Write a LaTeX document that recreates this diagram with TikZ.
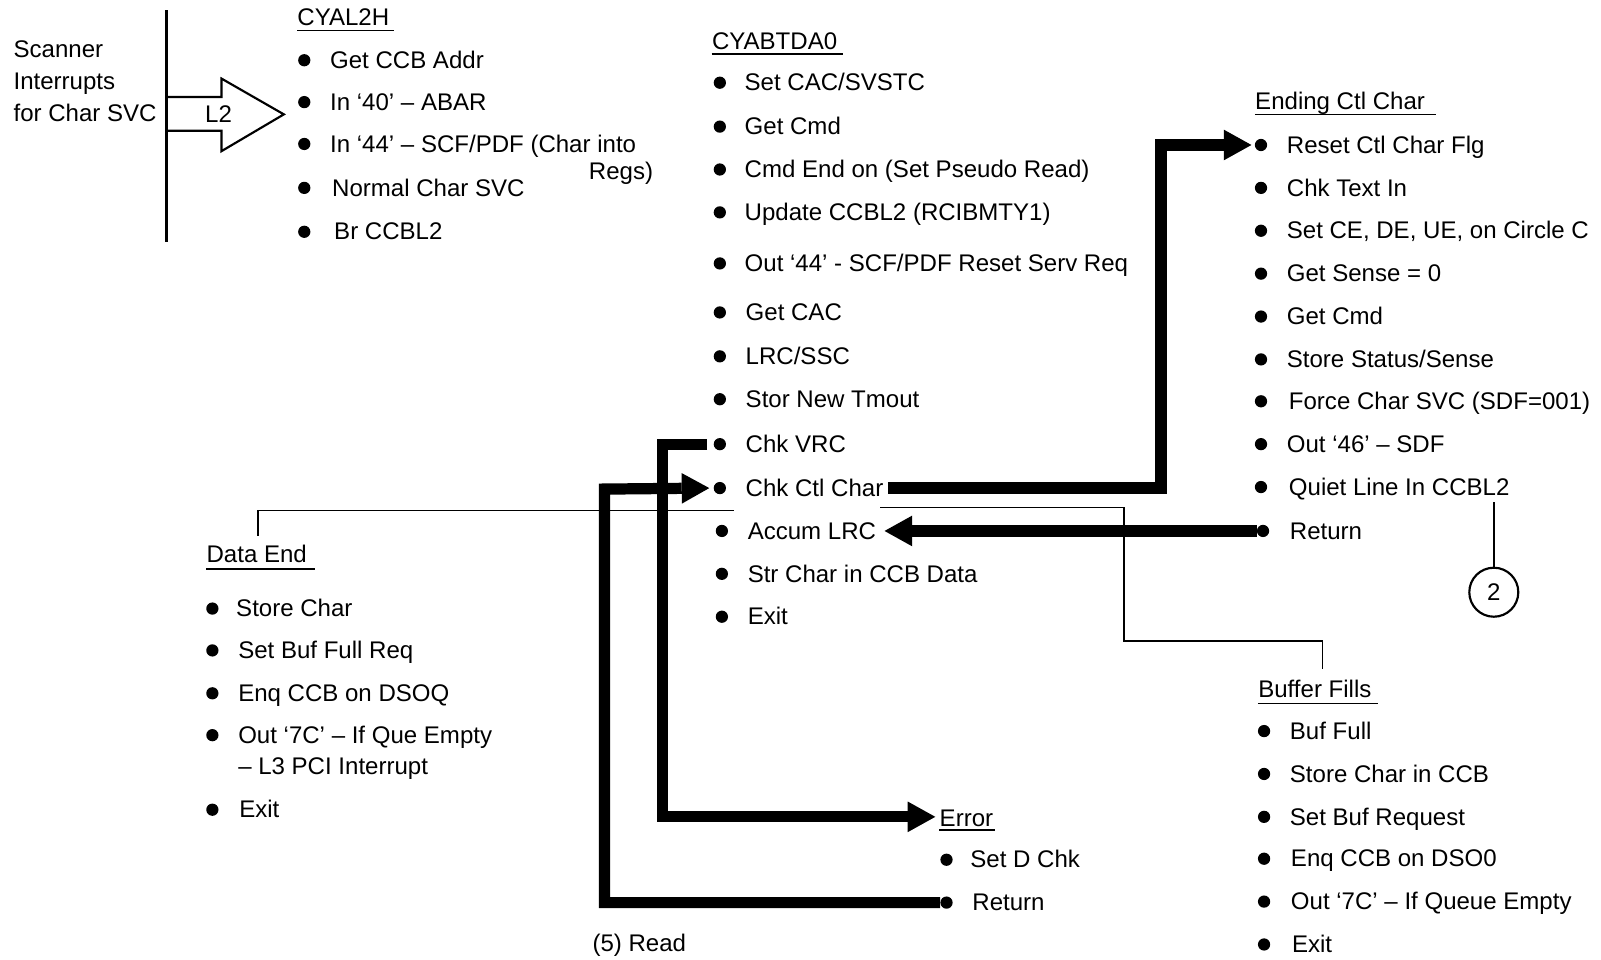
\documentclass[tikz,border=0pt]{standalone}
\usepackage{fontspec}
\setmainfont{Liberation Sans}
\usetikzlibrary{arrows.meta,calc}
\newcommand\bul[5]{%
  \node[dot] (#1d) at (#2,#4) {};
  \node[txt] (#1) at (#3,#4+8) {#5};}
\begin{document}
\begin{tikzpicture}[x=0.02cm,y=-0.02cm,
  txt/.style={anchor=base west, inner sep=0pt, font=\fontsize{13.4}{16}\selectfont},
  ttl/.style={txt},
  dot/.style={circle, fill=black, draw=none, inner sep=0pt, minimum size=0.24cm},
  thin/.style={line width=0.85pt},
  flow/.style={line width=0.22cm, line join=miter},
  flowarrow/.style={flow, -{Triangle[length=0.54cm,width=0.6cm,line width=0pt]}},
  uline/.style={line width=0.9pt}]
\useasboundingbox (0,0) rectangle (1568,940);

% ---------- left: scanner interrupts ----------
\node[txt] (scan1) at (13,56) {Scanner};
\node[txt] (scan2) at (13,88) {Interrupts};
\node[txt] (scan3) at (13,119) {for Char SVC};
\coordinate (vtop) at (163,10);
\coordinate (vbot) at (163,237);
\draw[line width=1.4pt] (vtop) -- (vbot);
\draw[line width=1.2pt, line join=miter] (163,95) -- (217,95) -- (217,77) -- (278,112)
   -- (217,148) -- (217,128) -- (163,128);
\node[txt, anchor=center] (l2) at (214,112) {L2};

% ---------- CYAL2H ----------
\node[ttl] (cyal) at (291,25) {CYAL2H};
\draw[uline] ($(cyal.base west)+(0,5)$) -- ($(cyal.base east)+(4,5)$);
\bul{a1}{298}{323}{59}{Get CCB Addr}
\bul{a2}{298}{323}{100}{In ‘40’ – ABAR}
\bul{a3}{298}{323}{141}{In ‘44’ – SCF/PDF (Char into}
\node[txt, anchor=base east] (a3b) at (640,176) {Regs)};
\bul{a4}{298}{325}{184}{Normal Char SVC}
\bul{a5}{298}{327}{227}{Br CCBL2}

% ---------- CYABTDA0 ----------
\node[ttl] (cyab) at (697,48) {CYABTDA0};
\draw[uline] ($(cyab.base west)+(0,5)$) -- ($(cyab.base east)+(5,5)$);
\bul{b1}{705}{729}{81}{Set CAC/SVSTC}
\bul{b2}{705}{729}{124}{Get Cmd}
\bul{b3}{705}{729}{166}{Cmd End on (Set Pseudo Read)}
\bul{b4}{705}{729}{208}{Update CCBL2 (RCIBMTY1)}
\bul{b5}{705}{729}{258}{Out ‘44’ - SCF/PDF Reset Serv Req}
\bul{b6}{705}{730}{306}{Get CAC}
\bul{b7}{705}{730}{349}{LRC/SSC}
\bul{b8}{705}{730}{391}{Stor New Tmout}
\bul{vrc}{705}{730}{435}{Chk VRC}
\bul{chkctl}{705}{730}{478}{Chk Ctl Char}
\bul{accum}{707}{732}{520}{Accum LRC}
\bul{b12}{707}{732}{562}{Str Char in CCB Data}
\bul{b13}{707}{732}{604}{Exit}

% ---------- Ending Ctl Char ----------
\node[ttl] (ecc) at (1229,107) {Ending Ctl Char};
\draw[uline] ($(ecc.base west)+(0,5)$) -- ($(ecc.base east)+(10,5)$);
\bul{reset}{1235}{1260}{142}{Reset Ctl Char Flg}
\bul{e2}{1235}{1260}{184}{Chk Text In}
\bul{e3}{1235}{1260}{226}{Set CE, DE, UE, on Circle C}
\bul{e4}{1235}{1260}{268}{Get Sense = 0}
\bul{e5}{1235}{1260}{310}{Get Cmd}
\bul{e6}{1235}{1260}{352}{Store Status/Sense}
\bul{e7}{1235}{1262}{393}{Force Char SVC (SDF=001)}
\bul{e8}{1235}{1260}{435}{Out ‘46’ – SDF}
\bul{quiet}{1235}{1262}{477}{Quiet Line In CCBL2}
\bul{eret}{1237}{1263}{520}{Return}

\node[draw, circle, line width=1.2pt, minimum size=0.96cm, inner sep=0pt,
      font=\fontsize{13.4}{16}\selectfont] (c2) at (1463,580) {2};
\coordinate (q2) at (1463,492);
\draw[line width=1.2pt] (q2) -- (c2.north);

% ---------- Data End ----------
\node[ttl] (dataend) at (202,551) {Data End};
\draw[uline] ($(dataend.base west)+(0,6)$) -- ($(dataend.base east)+(8,6)$);
\bul{d1}{208}{231}{596}{Store Char}
\bul{d2}{208}{233}{637}{Set Buf Full Req}
\bul{d3}{208}{233}{679}{Enq CCB on DSOQ}
\bul{d4}{208}{233}{720}{Out ‘7C’ – If Que Empty}
\node[txt] (d4b) at (233,759) {– L3 PCI Interrupt};
\bul{d5}{208}{234}{793}{Exit}
\coordinate (deend) at (719,500);
\draw[thin] ($(dataend.north)+(1,-9)$) |- (deend);

% ---------- Buffer Fills ----------
\node[ttl] (buf) at (1232,683) {Buffer Fills};
\draw[uline] ($(buf.base west)+(0,6)$) -- ($(buf.base east)+(6,6)$);
\bul{f1}{1238}{1263}{716}{Buf Full}
\bul{f2}{1238}{1263}{758}{Store Char in CCB}
\bul{f3}{1238}{1263}{800}{Set Buf Request}
\bul{f4}{1238}{1264}{841}{Enq CCB on DSO0}
\bul{f5}{1238}{1264}{883}{Out ‘7C’ – If Queue Empty}
\bul{f6}{1238}{1265}{925}{Exit}
\coordinate (bfstart) at (862,497);
\coordinate (bfx) at (1101,628);
\coordinate (bfend) at (1295,655);
\draw[thin] (bfstart) -| (bfx) -| (bfend);

% ---------- Error ----------
\node[ttl] (err) at (920,809) {Error};
\draw[uline] ($(err.base west)+(0,4)$) -- ($(err.base east)+(1,4)$);
\bul{r1}{927}{950}{842}{Set D Chk}
\bul{rret}{927}{952}{884}{Return}

\node[txt] (read) at (580,932) {(5) Read};

% ---------- thick flow connectors ----------
\coordinate (k1) at (1137,142);
\draw[flowarrow] ($(chkctl.east |- chkctld)+(4,0)$) -| (k1) -- ($(resetd.west)+(-3,0)$);
\draw[flowarrow] (eretd.west) -- ($(accum.east |- eretd)+(8,0)$);
\coordinate (k3) at (649,800);
\draw[flowarrow] ($(vrcd.west)+(-6,0)$) -| (k3) -- ($(err.west |- k3)+(-4,0)$);
\coordinate (k4) at (592,479);
\draw[flowarrow] (rretd.west) -| (k4) -- ($(chkctld.west)+(-4,0)$);
\end{tikzpicture}
\end{document}
